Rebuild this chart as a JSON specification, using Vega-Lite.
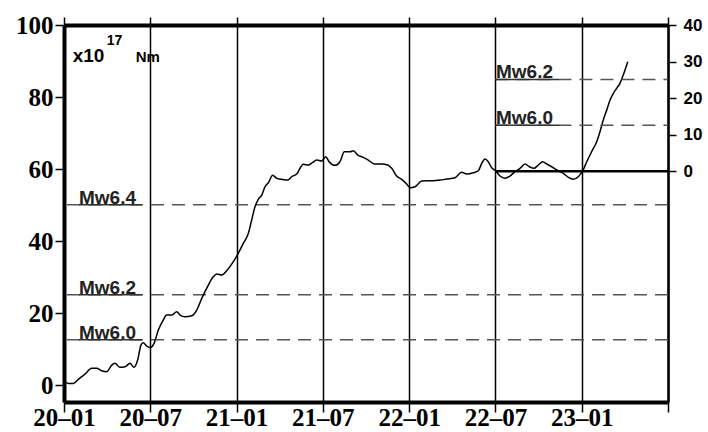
{
  "$schema": "https://vega.github.io/schema/vega-lite/v6.json",
  "autosize": "none",
  "width": 604,
  "height": 377,
  "padding": {"left": 64, "top": 25, "right": 40, "bottom": 30},
  "background": "white",
  "config": {"view": {"stroke": null}},
  "datasets": {
    "moment": [
      {"month":0.07,"moment":0.92},{"month":0.30,"moment":0.47},{"month":0.65,"moment":0.47},{"month":0.99,"moment":1.58},{"month":1.46,"moment":3.06},{"month":1.93,"moment":4.64},{"month":2.27,"moment":4.64},{"month":2.62,"moment":3.97},{"month":2.97,"moment":3.69},{"month":3.32,"moment":5.56},{"month":3.55,"moment":6.03},{"month":3.89,"moment":4.92},{"month":4.24,"moment":5.08},{"month":4.59,"moment":6.03},{"month":4.87,"moment":4.92},{"month":5.12,"moment":6.94},{"month":5.35,"moment":11.11},{"month":5.51,"moment":11.75},{"month":5.75,"moment":10.83},{"month":6.03,"moment":10.47},{"month":6.26,"moment":11.58},{"month":6.56,"moment":15.28},{"month":6.90,"moment":18.06},{"month":7.14,"moment":19.44},{"month":7.49,"moment":19.44},{"month":7.84,"moment":20.36},{"month":8.07,"moment":19.44},{"month":8.41,"moment":18.97},{"month":8.88,"moment":19.25},{"month":9.23,"moment":20.83},{"month":9.58,"moment":24.08},{"month":9.92,"moment":26.86},{"month":10.38,"moment":30.08},{"month":10.62,"moment":30.83},{"month":10.97,"moment":30.56},{"month":11.31,"moment":31.75},{"month":11.66,"moment":33.6},{"month":12.01,"moment":35.83},{"month":12.47,"moment":39.36},{"month":12.82,"moment":42.14},{"month":13.05,"moment":45.83},{"month":13.28,"moment":49.53},{"month":13.51,"moment":51.58},{"month":13.75,"moment":52.78},{"month":13.98,"moment":55.08},{"month":14.21,"moment":56.19},{"month":14.51,"moment":58.25},{"month":14.79,"moment":57.42},{"month":15.14,"moment":57.14},{"month":15.56,"moment":56.94},{"month":15.83,"moment":57.86},{"month":16.18,"moment":58.61},{"month":16.64,"moment":61.31},{"month":16.99,"moment":61.11},{"month":17.27,"moment":61.75},{"month":17.57,"moment":62.5},{"month":17.92,"moment":62.22},{"month":18.20,"moment":63.42},{"month":18.43,"moment":62.03},{"month":18.84,"moment":61.03},{"month":19.19,"moment":62.03},{"month":19.49,"moment":64.81},{"month":19.89,"moment":64.81},{"month":20.12,"moment":65.08},{"month":20.42,"moment":63.89},{"month":20.81,"moment":63.25},{"month":21.16,"moment":62.5},{"month":21.58,"moment":61.39},{"month":22.09,"moment":61.39},{"month":22.51,"moment":61.11},{"month":22.79,"moment":60.19},{"month":23.13,"moment":58.06},{"month":23.48,"moment":57.14},{"month":23.83,"moment":55.83},{"month":24.06,"moment":54.81},{"month":24.41,"moment":55.08},{"month":24.87,"moment":56.67},{"month":25.22,"moment":56.75},{"month":25.68,"moment":56.75},{"month":26.15,"moment":56.94},{"month":26.61,"moment":57.22},{"month":27.19,"moment":57.58},{"month":27.65,"moment":59.08},{"month":28.00,"moment":58.61},{"month":28.46,"moment":58.97},{"month":28.81,"moment":59.53},{"month":29.05,"moment":61.58},{"month":29.27,"moment":62.78},{"month":29.50,"moment":62.03},{"month":29.74,"moment":60.36},{"month":30.01,"moment":59.53},{"month":30.32,"moment":58.06},{"month":30.67,"moment":57.42},{"month":31.01,"moment":58.06},{"month":31.36,"moment":59.25},{"month":31.71,"moment":60.19},{"month":32.06,"moment":61.39},{"month":32.36,"moment":60.64},{"month":32.68,"moment":60.19},{"month":32.98,"moment":61.11},{"month":33.29,"moment":62.03},{"month":33.57,"moment":61.39},{"month":33.91,"moment":60.64},{"month":34.37,"moment":59.53},{"month":34.72,"moment":58.81},{"month":35.07,"moment":57.69},{"month":35.41,"moment":57.14},{"month":35.76,"moment":57.86},{"month":36.07,"moment":59.53},{"month":36.35,"moment":62.03},{"month":36.69,"moment":64.81},{"month":37.04,"moment":67.58},{"month":37.27,"moment":70.36},{"month":37.50,"moment":73.61},{"month":37.74,"moment":76.39},{"month":37.97,"moment":79.17},{"month":38.20,"moment":81.03},{"month":38.43,"moment":82.42},{"month":38.66,"moment":83.81},{"month":38.89,"moment":86.11},{"month":39.20,"moment":89.81}
    ],
    "levels": [
      {"label": "Mw6.4", "moment": 50.1},
      {"label": "Mw6.2", "moment": 25.1},
      {"label": "Mw6.0", "moment": 12.6}
    ],
    "insetLevels": [
      {"label": "Mw6.2", "moment": 25.1},
      {"label": "Mw6.0", "moment": 12.6}
    ],
    "unit": [{"note": "annotation"}]
  },
  "layer": [
    {
      "layer": [
        {
          "data": {"name": "levels"},
          "mark": {"type": "rule", "color": "#555555", "strokeWidth": 1.5, "strokeDash": [13, 8]},
          "encoding": {
            "y": {"field": "moment", "type": "quantitative"}
          }
        },
        {
          "data": {"name": "levels"},
          "mark": {"type": "rule", "color": "#333333", "strokeWidth": 1.5},
          "encoding": {
            "x": {"datum": 1.04, "type": "quantitative"},
            "x2": {"datum": 5.4},
            "y": {"field": "moment", "type": "quantitative"}
          }
        },
        {
          "data": {"name": "levels"},
          "mark": {"type": "text", "align": "left", "baseline": "alphabetic", "dy": -1, "font": "Liberation Sans", "fontWeight": "bold", "fontSize": 19, "color": "#222222"},
          "encoding": {
            "x": {"datum": 1.04, "type": "quantitative"},
            "y": {"field": "moment", "type": "quantitative"},
            "text": {"field": "label"}
          }
        },
        {
          "data": {"name": "moment"},
          "mark": {"type": "line", "color": "black", "strokeWidth": 1.5, "interpolate": "monotone"},
          "encoding": {
            "x": {
              "field": "month", "type": "quantitative",
              "scale": {"domain": [0, 42], "nice": false, "zero": false},
              "axis": {
                "orient": "bottom", "title": null, "values": [0, 6, 12, 18, 24, 30, 36, 42],
                "labelExpr": "datum.value >= 42 ? '' : (toString(20 + floor(datum.value / 12)) + '–' + (datum.value % 12 == 0 ? '01' : '07'))",
                "labelFont": "Liberation Serif", "labelFontSize": 25, "labelFontWeight": "bold", "labelColor": "black",
                "labelPadding": -7, "labelDx": 5, "labelFlush": false,
                "tickSize": 10, "tickColor": "black", "tickWidth": 1.5,
                "domainColor": "black", "domainWidth": 4,
                "grid": true, "gridColor": "black", "gridWidth": 1.5, "gridOpacity": 1
              }
            },
            "y": {
              "field": "moment", "type": "quantitative",
              "scale": {"domain": [-4.7, 100], "nice": false, "zero": false},
              "axis": {
                "orient": "left", "title": null, "values": [0, 20, 40, 60, 80, 100],
                "labelFont": "Liberation Serif", "labelFontSize": 25, "labelFontWeight": "bold", "labelColor": "black",
                "labelPadding": 2, "tickSize": 9, "tickColor": "black", "tickWidth": 1.5,
                "domainColor": "black", "domainWidth": 4, "grid": false
              }
            }
          }
        },
        {
          "data": {"name": "unit"},
          "mark": {"type": "text", "text": "x10", "align": "left", "baseline": "alphabetic", "font": "Liberation Sans", "fontWeight": "bold", "fontSize": 19, "color": "black"},
          "encoding": {
            "x": {"datum": 0.6, "type": "quantitative"},
            "y": {"datum": 89.8, "type": "quantitative"}
          }
        },
        {
          "data": {"name": "unit"},
          "mark": {"type": "text", "text": "17", "align": "left", "baseline": "alphabetic", "font": "Liberation Sans", "fontWeight": "bold", "fontSize": 14, "color": "black"},
          "encoding": {
            "x": {"datum": 2.97, "type": "quantitative"},
            "y": {"datum": 94.44, "type": "quantitative"}
          }
        },
        {
          "data": {"name": "unit"},
          "mark": {"type": "text", "text": "Nm", "align": "left", "baseline": "alphabetic", "font": "Liberation Sans", "fontWeight": "bold", "fontSize": 15, "color": "black"},
          "encoding": {
            "x": {"datum": 4.99, "type": "quantitative"},
            "y": {"datum": 89.8, "type": "quantitative"}
          }
        }
      ]
    },
    {
      "layer": [
        {
          "data": {"name": "insetLevels"},
          "mark": {"type": "rule", "color": "#555555", "strokeWidth": 1.5, "strokeDash": [13, 8]},
          "encoding": {
            "x": {
              "datum": 30, "type": "quantitative",
              "axis": {
                "orient": "top", "title": null, "values": [0, 6, 12, 18, 24, 30, 36, 42],
                "labels": false, "tickSize": 8, "tickColor": "black", "tickWidth": 1.5,
                "domainColor": "black", "domainWidth": 4, "grid": false
              }
            },
            "x2": {"datum": 42},
            "y": {
              "field": "moment", "type": "quantitative",
              "scale": {"domain": [-63.1, 40], "nice": false, "zero": false},
              "axis": {
                "orient": "right", "title": null, "values": [0, 10, 20, 30, 40],
                "labelFont": "Liberation Sans", "labelFontWeight": "bold", "labelFontSize": 17, "labelColor": "black",
                "labelPadding": 7, "tickSize": 8, "tickColor": "black", "tickWidth": 1.5,
                "domainColor": "black", "domainWidth": 2.5, "grid": false
              }
            }
          }
        },
        {
          "data": {"name": "insetLevels"},
          "mark": {"type": "rule", "color": "#333333", "strokeWidth": 1.5},
          "encoding": {
            "x": {"datum": 30.04, "type": "quantitative"},
            "x2": {"datum": 34.42},
            "y": {"field": "moment", "type": "quantitative"}
          }
        },
        {
          "data": {"name": "insetLevels"},
          "mark": {"type": "text", "align": "left", "baseline": "alphabetic", "dy": -1, "font": "Liberation Sans", "fontWeight": "bold", "fontSize": 19, "color": "#222222"},
          "encoding": {
            "x": {"datum": 30.04, "type": "quantitative"},
            "y": {"field": "moment", "type": "quantitative"},
            "text": {"field": "label"}
          }
        },
        {
          "data": {"name": "unit"},
          "mark": {"type": "rule", "color": "black", "strokeWidth": 2.5},
          "encoding": {
            "x": {"datum": 30, "type": "quantitative"},
            "x2": {"datum": 42},
            "y": {"datum": 0, "type": "quantitative"}
          }
        }
      ]
    }
  ],
  "resolve": {"scale": {"y": "independent"}, "axis": {"x": "independent"}}
}
